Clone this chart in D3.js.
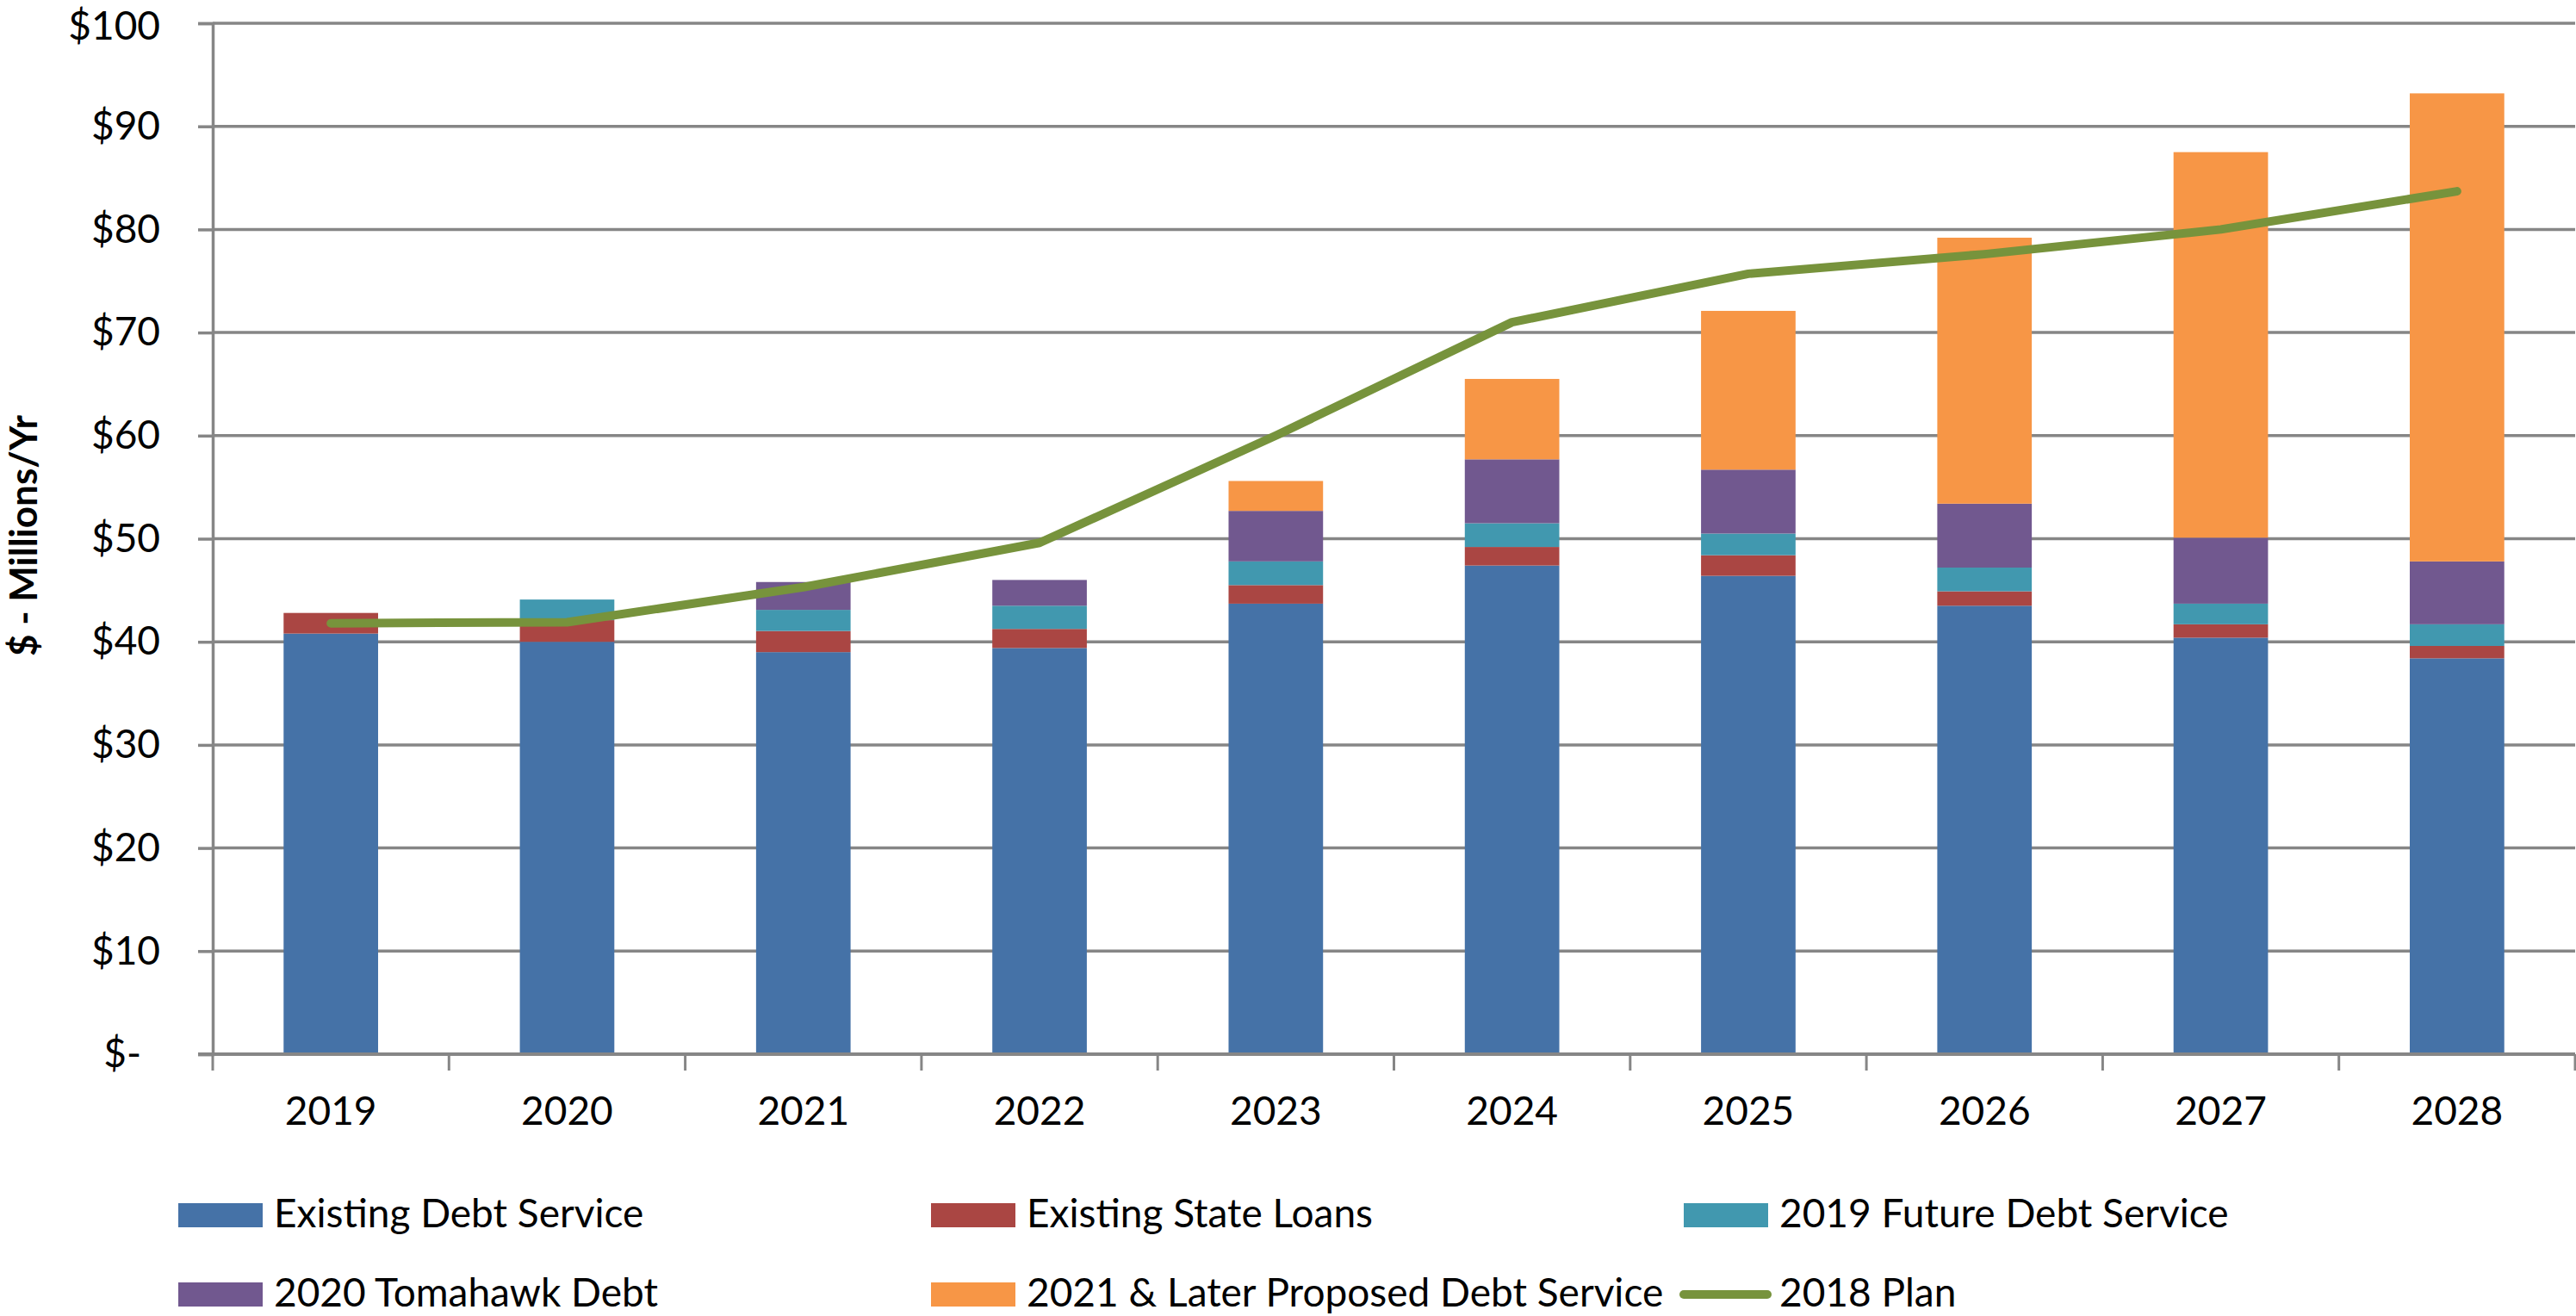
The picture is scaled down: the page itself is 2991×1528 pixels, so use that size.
<!DOCTYPE html>
<html>
<head>
<meta charset="utf-8">
<script src="https://cdn.jsdelivr.net/npm/d3@7"></script>
<style>
  html, body { margin: 0; padding: 0; background: #fff; }
  text { font-family: Lato, "Open Sans", sans-serif; fill: #000; }
</style>
</head>
<body>
<div id="chart"></div>
<script>
const years = ["2019", "2020", "2021", "2022", "2023", "2024", "2025", "2026", "2027", "2028"]

const seriesNames = ["Existing Debt Service", "Existing State Loans", "2019 Future Debt Service",
                     "2020 Tomahawk Debt", "2021 & Later Proposed Debt Service"]
const existingDebt   = [40.8, 40.0, 39.0, 39.4, 43.7, 47.4, 46.4, 43.5, 40.4, 38.4]
const stateLoans     = [2.0, 2.1, 2.05, 1.85, 1.8, 1.8, 2.0, 1.4, 1.3, 1.2]
const futureDebt2019 = [0, 2.0, 2.05, 2.25, 2.3, 2.3, 2.1, 2.3, 2.0, 2.1]
const tomahawk2020   = [0, 0, 2.7, 2.5, 4.9, 6.2, 6.2, 6.2, 6.4, 6.1]
const proposed2021   = [0, 0, 0, 0, 2.9, 7.8, 15.4, 25.8, 37.4, 45.4]

const planName = "2018 Plan"
const plan2018 = [41.8, 41.9, 45.3, 49.6, 60.0, 71.0, 75.7, 77.6, 80.0, 83.7]

const yTicks = [0, 10, 20, 30, 40, 50, 60, 70, 80, 90, 100]

const colors = ["#4572A7", "#AA4643", "#4198AF", "#71588F", "#F79646"]
const lineColor = "#77933C"

const width = 2991, height = 1528
const plotLeft = 247, plotRight = 2990, plotTop = 27, plotBottom = 1224
const gridColor = "#868686"

const svg = d3.select("#chart").append("svg")
  .attr("width", width)
  .attr("height", height)

const x = d3.scaleBand()
  .domain(years)
  .range([plotLeft, plotRight])
  .paddingInner(0.6)
  .paddingOuter(0.3)

const y = d3.scaleLinear()
  .domain([0, 100])
  .range([plotBottom, plotTop])

// gridlines
svg.append("g")
  .selectAll("line")
  .data(yTicks.filter(d => d > 0))
  .enter().append("line")
    .attr("x1", plotLeft).attr("x2", plotRight)
    .attr("y1", d => y(d)).attr("y2", d => y(d))
    .attr("stroke", gridColor)
    .attr("stroke-width", 3.5)

// stacked bars
const rows = years.map((yr, i) => ({
  year: yr,
  s0: existingDebt[i], s1: stateLoans[i], s2: futureDebt2019[i], s3: tomahawk2020[i], s4: proposed2021[i]
}))
const stack = d3.stack().keys(["s0", "s1", "s2", "s3", "s4"])(rows)

svg.append("g")
  .selectAll("g")
  .data(stack)
  .enter().append("g")
    .attr("fill", (d, i) => colors[i])
  .selectAll("rect")
  .data(d => d)
  .enter().append("rect")
    .attr("x", d => x(d.data.year))
    .attr("width", x.bandwidth())
    .attr("y", d => y(d[1]))
    .attr("height", d => y(d[0]) - y(d[1]))

// y axis
const yAxis = d3.axisLeft(y)
  .tickValues(yTicks)
  .tickSize(17)
  .tickPadding(44)
  .tickFormat(d => d === 0 ? "$-" : "$" + d)

const yg = svg.append("g")
  .attr("transform", "translate(" + plotLeft + ",0)")
  .call(yAxis)
yg.select(".domain").attr("stroke", gridColor).attr("stroke-width", 3.5)
yg.selectAll(".tick line").attr("stroke", gridColor).attr("stroke-width", 3.5)
yg.selectAll(".tick text")
  .attr("font-size", 46)
  .attr("font-family", "Lato, sans-serif")
  .attr("fill", "#000")
  .attr("dx", d => d === 0 ? -22 : 0)
  .attr("dy", d => d === 100 ? "0.4em" : "0.32em")

// x axis
svg.append("line")
  .attr("x1", plotLeft - 17).attr("x2", plotRight)
  .attr("y1", plotBottom).attr("y2", plotBottom)
  .attr("stroke", gridColor).attr("stroke-width", 4)

const bounds = years.map(d => x(d) - (x.step() - x.bandwidth()) / 2)
bounds.push(plotRight)
svg.append("g")
  .selectAll("line")
  .data(bounds)
  .enter().append("line")
    .attr("x1", d => d).attr("x2", d => d)
    .attr("y1", plotBottom).attr("y2", plotBottom + 19)
    .attr("stroke", gridColor).attr("stroke-width", 3)

svg.append("g")
  .selectAll("text")
  .data(years)
  .enter().append("text")
    .attr("x", d => x(d) + x.bandwidth() / 2)
    .attr("y", 1306)
    .attr("text-anchor", "middle")
    .attr("font-size", 46)
    .text(d => d)

// 2018 plan line
const line = d3.line()
  .x((d, i) => x(years[i]) + x.bandwidth() / 2)
  .y(d => y(d))

svg.append("path")
  .datum(plan2018)
  .attr("d", line)
  .attr("fill", "none")
  .attr("stroke", lineColor)
  .attr("stroke-width", 10)
  .attr("stroke-linecap", "round")
  .attr("stroke-linejoin", "round")

// y title
svg.append("text")
  .text("$ - Millions/Yr")
  .attr("text-anchor", "middle")
  .attr("font-size", 44)
  .attr("font-weight", "bold")
  .attr("transform", "translate(43,622)rotate(-90)")

// legend
const legendPos = [
  { x: 207, y: 1397 }, { x: 1081, y: 1397 }, { x: 1955, y: 1397 },
  { x: 207, y: 1489 }, { x: 1081, y: 1489 }
]
const legend = svg.append("g")
seriesNames.forEach((name, i) => {
  const p = legendPos[i]
  legend.append("rect")
    .attr("x", p.x).attr("y", p.y)
    .attr("width", 98).attr("height", 28)
    .attr("fill", colors[i])
  legend.append("text")
    .attr("x", p.x + 111).attr("y", p.y + 28)
    .attr("font-size", 46)
    .text(name)
})
legend.append("line")
  .attr("x1", 1955).attr("x2", 2052)
  .attr("y1", 1503).attr("y2", 1503)
  .attr("stroke", lineColor).attr("stroke-width", 10)
  .attr("stroke-linecap", "round")
legend.append("text")
  .attr("x", 2066).attr("y", 1517)
  .attr("font-size", 46)
  .text(planName)
</script>
</body>
</html>
